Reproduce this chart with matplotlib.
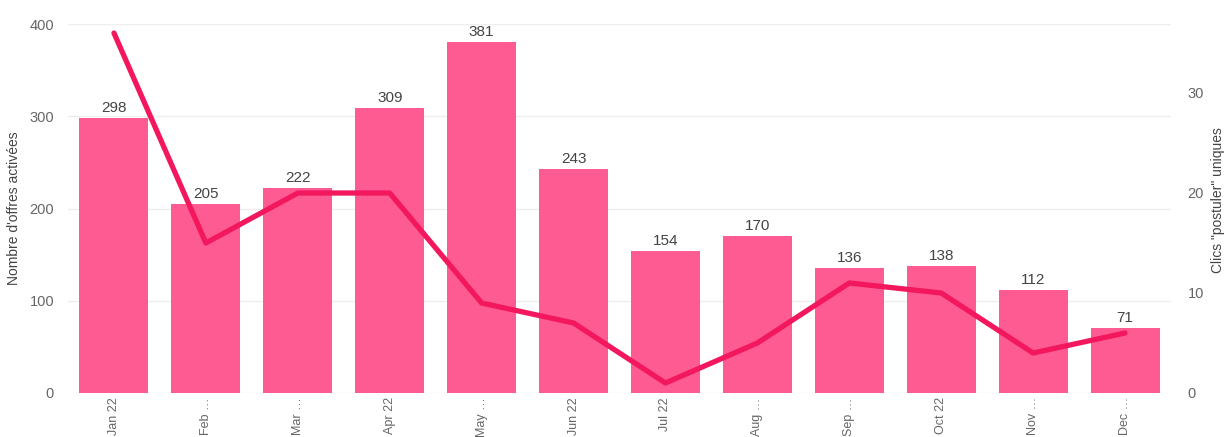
import matplotlib
matplotlib.use("Agg")
import matplotlib.pyplot as plt

plt.rcParams['font.family'] = ['Liberation Sans', 'DejaVu Sans']

months = ["Jan 22", "Feb …", "Mar …", "Apr 22", "May …", "Jun 22",
          "Jul 22", "Aug …", "Sep …", "Oct 22", "Nov …", "Dec …"]
offres = [298, 205, 222, 309, 381, 243, 154, 170, 136, 138, 112, 71]
clics = [36, 15, 20, 20, 9, 7, 1, 5, 11, 10, 4, 6]

bar_color = "#FD5B91"
line_color = "#F3175E"
tick_color = "#666666"

fig = plt.figure(figsize=(12.28, 4.37), dpi=100)
ax = fig.add_axes([68/1228, 44/437, (1171-68)/1228, (393-24)/437])
x = list(range(len(months)))
ax.bar(x, offres, width=0.75, color=bar_color, zorder=2)
for xi, v in zip(x, offres):
    ax.text(xi, v + 3, str(v), ha="center", va="bottom", fontsize=11, color="#444444")

ax.set_xlim(-0.5, len(months) - 0.5)
ax.set_ylim(0, 400)
ax.set_yticks([0, 100, 200, 300, 400])
ax.grid(axis="y", color="#EEEEEE", linewidth=1, zorder=0)
ax.set_axisbelow(True)
for s in ax.spines.values():
    s.set_visible(False)
ax.tick_params(axis="y", length=0, labelsize=10.5, labelcolor=tick_color, pad=10)
ax.tick_params(axis="x", length=0, labelsize=9, labelcolor=tick_color, pad=3)
ax.set_xticks(x)
ax.set_xticklabels(months, rotation=90, va="top")
ax.set_ylabel("Nombre d'offres activées", fontsize=10, color="#444444", labelpad=6)

ax2 = ax.twinx()
ax2.plot(x, clics, color=line_color, linewidth=3.8, solid_capstyle="round",
         solid_joinstyle="round", zorder=3)
ax2.set_ylim(0, 36.9)
ax2.set_yticks([0, 10, 20, 30])
for s in ax2.spines.values():
    s.set_visible(False)
ax2.tick_params(axis="y", length=0, labelsize=10.5, labelcolor=tick_color, pad=12)
fig.text(1218/1228, 1 - 200/437, 'Clics "postuler" uniques', rotation=90,
         ha="center", va="center", fontsize=10, color="#444444")

fig.savefig("out.png", dpi=100, facecolor="white")
